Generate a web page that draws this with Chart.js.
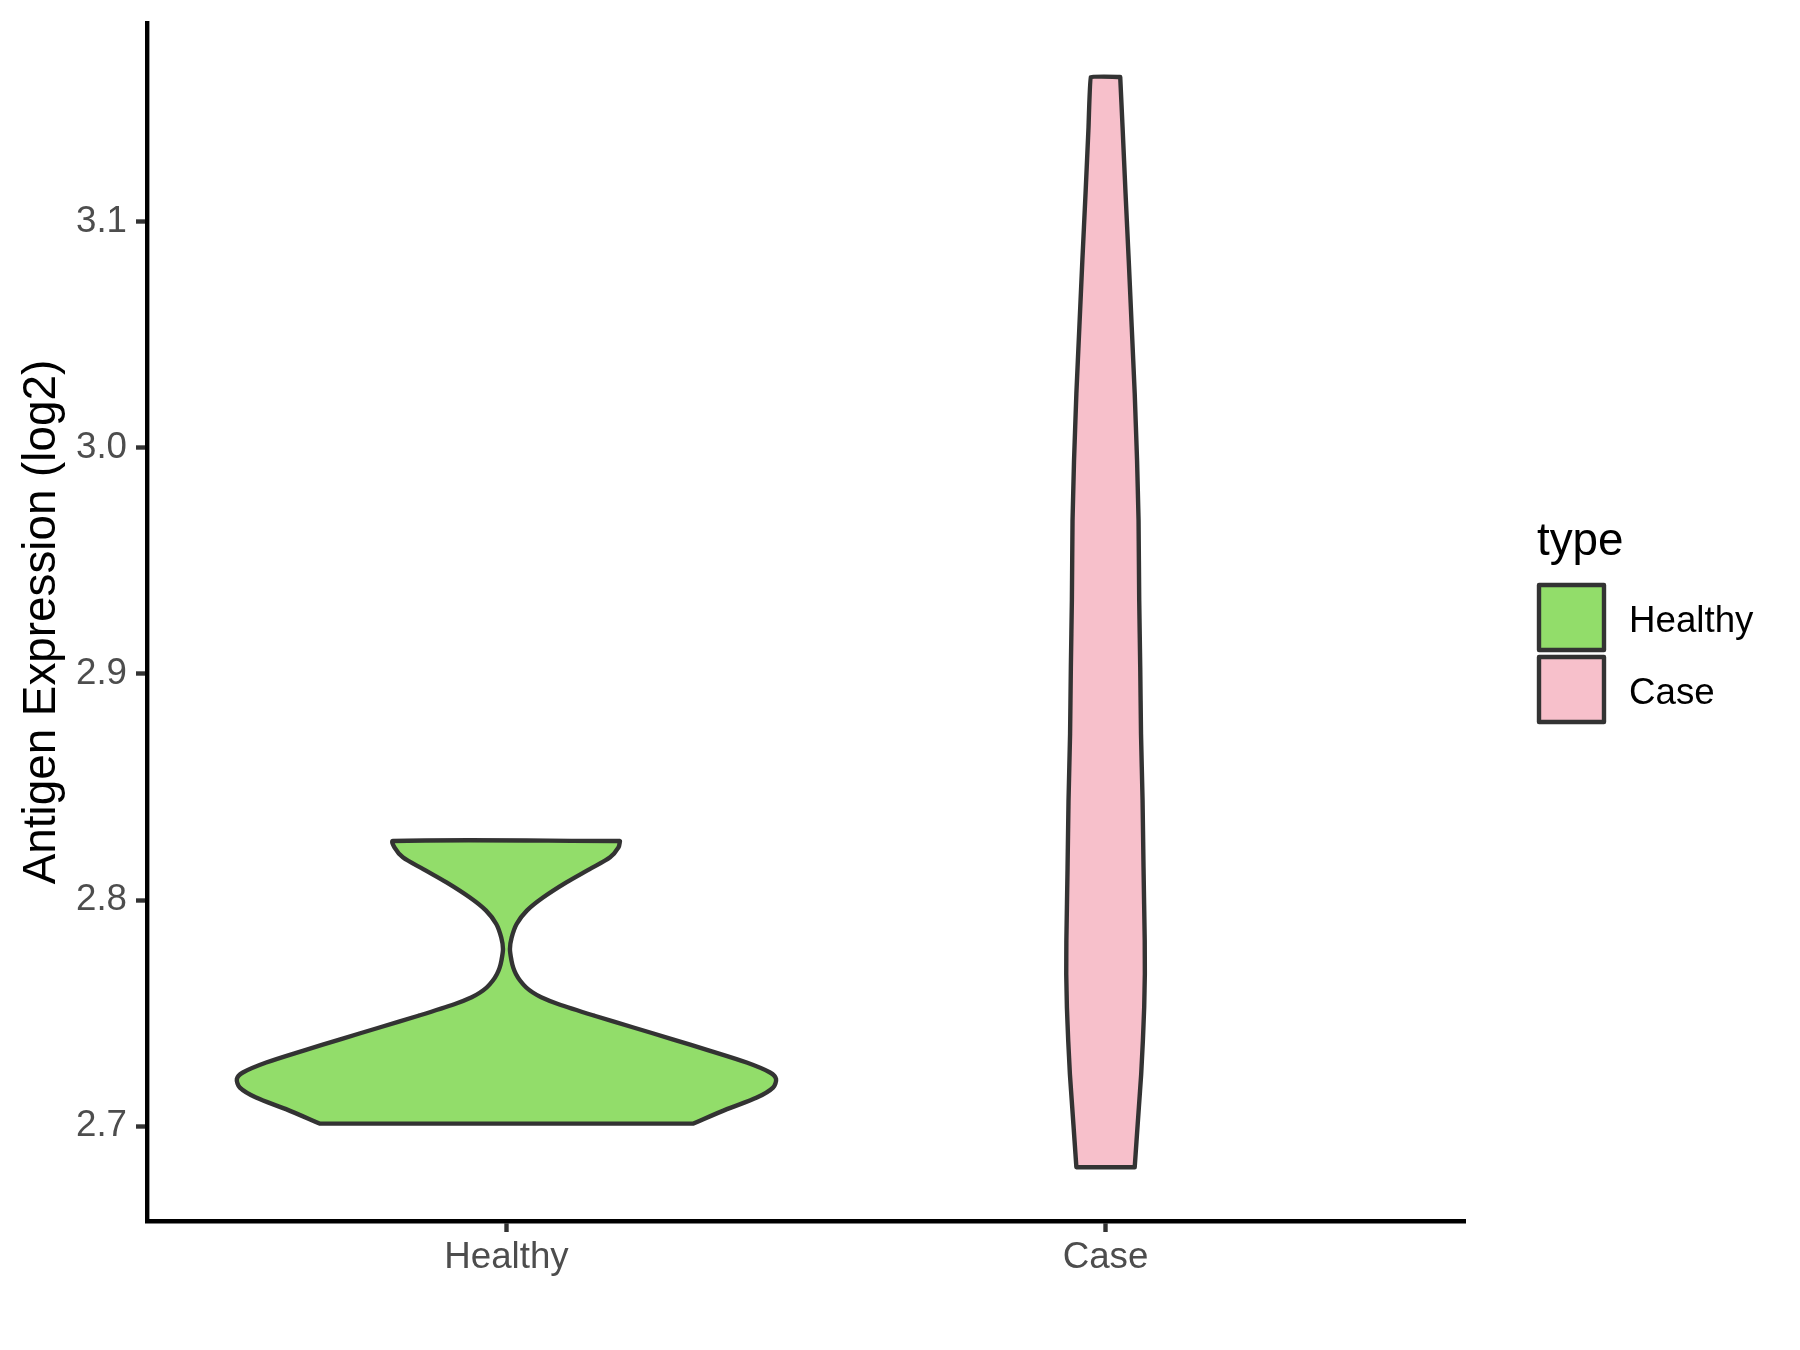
<!DOCTYPE html>
<html>
<head>
<meta charset="utf-8">
<title>Antigen Expression violin</title>
<script src="https://cdn.jsdelivr.net/npm/chart.js@4.4.0/dist/chart.umd.min.js"></script>
<style>
  body { margin: 0; background: #ffffff; }
  canvas { display: block; }
</style>
</head>
<body>
<canvas id="violinChart" width="1800" height="1350"></canvas>
<script>
// categories on the x axis and where they sit
const categories = ['Healthy', 'Case'];
const categoryPos = [1, 2];
const yTickValues = [2.7, 2.8, 2.9, 3.0, 3.1];
const yTickLabels = ['2.7', '2.8', '2.9', '3.0', '3.1'];
const legendTitle = 'type';

// violin outlines: expression level and half width (x units)
const healthyLevels = [2.7011, 2.7075, 2.7126, 2.7170, 2.7208, 2.7237, 2.7281, 2.7333, 2.7385, 2.7436,
  2.7488, 2.7540, 2.7570, 2.7591, 2.7613, 2.7643, 2.7672, 2.7700, 2.7731, 2.7783,
  2.7834, 2.7894, 2.7953, 2.8011, 2.8078, 2.8137, 2.8189, 2.8233, 2.8261];
const healthyHalfWidth = [0.312, 0.368, 0.418, 0.445, 0.450, 0.440, 0.401, 0.340, 0.276, 0.212,
  0.147, 0.086, 0.058, 0.044, 0.033, 0.023, 0.016, 0.0115, 0.0085, 0.0058,
  0.0087, 0.017, 0.034, 0.061, 0.100, 0.139, 0.173, 0.187, 0.1895];

const caseLevels = [2.6818, 2.6934, 2.7082, 2.7230, 2.7377, 2.7525, 2.7672, 2.7820, 2.8144, 2.8440,
  2.8735, 2.9030, 2.9325, 2.9679, 2.9945, 3.0240, 3.0535, 3.0830, 3.1125, 3.1420, 3.1641];
const caseHalfWidth = [0.0487, 0.0517, 0.0556, 0.0595, 0.0623, 0.0645, 0.0656, 0.0654, 0.0634, 0.0618,
  0.0592, 0.0579, 0.0562, 0.0551, 0.0526, 0.0487, 0.0437, 0.0387, 0.0334, 0.0284, 0.0245];

const fillColors = ['#92DD6A', '#F7C0CB'];
const curveTension = [0.3, 0.05];
const lineColor = '#333333';
const tickTextColor = '#4D4D4D';
const fontFamily = '"Liberation Sans", Arial, Helvetica, sans-serif';

// closed outline: right side going up, left side coming down.
// corner points are doubled so the flat ends stay straight with tension on
function violinOutline(center, levels, halfWidth) {
  const n = levels.length;
  const pts = [];
  for (let i = 0; i < n; i++) {
    pts.push({x: center + halfWidth[i], y: levels[i]});
  }
  pts.push({x: center + halfWidth[n - 1], y: levels[n - 1]});
  for (let i = n - 1; i >= 0; i--) {
    pts.push({x: center - halfWidth[i], y: levels[i]});
  }
  pts.push({x: center - halfWidth[0], y: levels[0]});
  pts.push({x: center + halfWidth[0], y: levels[0]});
  return pts;
}

const violins = [
  violinOutline(categoryPos[0], healthyLevels, healthyHalfWidth),
  violinOutline(categoryPos[1], caseLevels, caseHalfWidth)
];

const datasets = categories.map((name, i) => ({
  label: name,
  data: violins[i],
  backgroundColor: fillColors[i],
  borderColor: lineColor,
  borderWidth: 4.4,
  borderJoinStyle: 'round',
  borderCapStyle: 'round',
  fill: 'shape',
  tension: curveTension[i],
  pointRadius: 0,
  clip: false
}));

// ggplot style legend to the right of the panel
const sideLegend = {
  id: 'sideLegend',
  afterDraw(chart) {
    const ctx = chart.ctx;
    const left = chart.chartArea.right + 72;
    ctx.save();
    ctx.fillStyle = '#000000';
    ctx.font = '45.8px ' + fontFamily;
    ctx.textAlign = 'left';
    ctx.textBaseline = 'alphabetic';
    ctx.fillText(legendTitle, left, 555);
    chart.data.datasets.forEach((ds, i) => {
      const top = 585 + i * 72;
      ctx.fillStyle = ds.backgroundColor;
      ctx.fillRect(left + 2, top, 65, 65);
      ctx.strokeStyle = ds.borderColor;
      ctx.lineWidth = 4.4;
      ctx.lineJoin = 'round';
      ctx.strokeRect(left + 2, top, 65, 65);
      ctx.fillStyle = '#000000';
      ctx.font = '36.7px ' + fontFamily;
      ctx.fillText(ds.label, left + 92, 632 + i * 72);
    });
    ctx.restore();
  }
};

const ctx = document.getElementById('violinChart').getContext('2d');
const violinChart = new Chart(ctx, {
  type: 'line',
  data: { datasets: datasets },
  plugins: [sideLegend],
  options: {
    responsive: false,
    animation: false,
    devicePixelRatio: 1,
    events: [],
    layout: { padding: { top: 23, right: 335, bottom: 0, left: 0 } },
    plugins: {
      legend: { display: false },
      tooltip: { enabled: false }
    },
    scales: {
      x: {
        type: 'linear',
        min: 0.4,
        max: 2.6,
        afterBuildTicks: (scale) => { scale.ticks = categoryPos.map(v => ({value: v})); },
        afterFit: (scale) => { scale.height = 129; scale.paddingLeft = 0; scale.paddingRight = 0; },
        ticks: {
          callback: (value, index) => categories[index],
          color: tickTextColor,
          font: { family: fontFamily, size: 36.7 },
          padding: 4,
          maxRotation: 0,
          autoSkip: false
        },
        grid: { drawOnChartArea: false, drawTicks: true, tickLength: 11, tickWidth: 4.4, tickColor: lineColor },
        border: { display: true, color: '#000000', width: 4.4 }
      },
      y: {
        type: 'linear',
        min: 2.658,
        max: 3.188,
        afterBuildTicks: (scale) => { scale.ticks = yTickValues.map(v => ({value: v})); },
        afterFit: (scale) => { scale.width = 147; scale.paddingTop = 0; scale.paddingBottom = 0; },
        ticks: {
          callback: (value, index) => yTickLabels[index],
          color: tickTextColor,
          font: { family: fontFamily, size: 36.7 },
          padding: 9
        },
        grid: { drawOnChartArea: false, drawTicks: true, tickLength: 11, tickWidth: 4.4, tickColor: lineColor },
        border: { display: true, color: '#000000', width: 4.4 },
        title: {
          display: true,
          text: 'Antigen Expression (log2)',
          color: '#000000',
          font: { family: fontFamily, size: 45.8 },
          padding: { top: 15, bottom: 0 }
        }
      }
    }
  }
});
</script>
</body>
</html>
